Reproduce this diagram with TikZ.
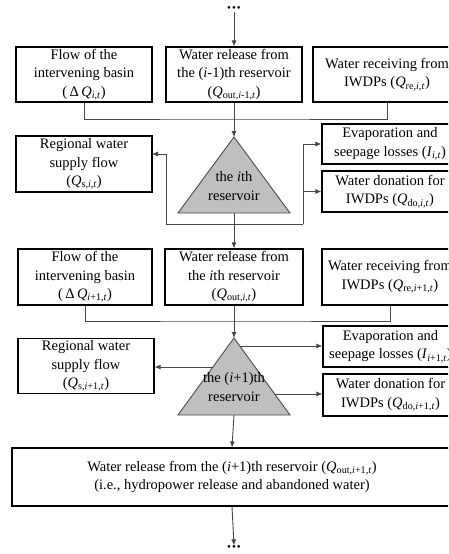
\documentclass[tikz,border=0pt]{standalone}
\usepackage{fontspec}
\setmainfont{Liberation Serif}
\usetikzlibrary{arrows.meta,calc}
\newcommand{\Qv}[1]{\textit{Q}\textsubscript{#1}}
\newcommand{\vi}{\textit{i}}
\newcommand{\vt}{\textit{t}}
\begin{document}
\begin{tikzpicture}[x=1pt,y=-1pt,
  box/.style={draw=black,line width=1.1pt,align=center,inner sep=0pt,font=\fontsize{14.5}{18.5}\selectfont},
  lbl/.style={align=center,inner sep=0pt,font=\fontsize{14.5}{18.5}\selectfont},
  con/.style={draw=black!72,line width=0.9pt},
  arr/.style={con,-{Latex[length=6pt,width=5pt]}},
  tri/.style={draw=black!70,fill=black!25,line width=0.9pt},
  dots/.style={inner sep=0pt,font=\fontsize{11}{11}\selectfont}]
\useasboundingbox (0,0) rectangle (448,554);
\clip (0,0) rectangle (448,554);
\fill[white] (0,0) rectangle (448,554);
% ---------- upper section ----------
\node[dots] (dtop) at (234,9) {•\hspace{1pt}•\hspace{1pt}•};
\node[box,minimum width=136pt,minimum height=55pt] (a1) at (84,74.5) {Flow of the\\intervening basin\\(\,Δ\,\Qv{\vi,\vt})};
\node[box,minimum width=136pt,minimum height=55pt] (a2) at (234,74.5) {Water release from\\the (\vi-1)th reservoir\\(\Qv{out,\vi-1,\vt})};
\node[box,minimum width=148pt,minimum height=55pt] (a3) at (387,74.5) {Water receiving from\\IWDPs (\Qv{re,\vi,\vt})};
\node[box,minimum width=136pt,minimum height=56pt] (s1) at (84,164) {Regional water\\supply flow\\(\Qv{s,\vi,\vt})};
\node[box,minimum width=136pt,minimum height=40pt] (e1) at (390,144) {Evaporation and\\seepage losses (\textit{I}\textsubscript{\vi,\vt})};
\node[box,minimum width=136pt,minimum height=41pt] (d1) at (390,191.5) {Water donation for\\IWDPs (\Qv{do,\vi,\vt})};
\coordinate (t1a) at (234,137);
\coordinate (t1l) at (178,213);
\coordinate (t1r) at (290,213);
\coordinate (t1b) at (234,213);
\path[tri] (t1a) -- (t1l) -- (t1r) -- cycle;
\node[lbl] (t1) at (234,186) {the \vi th\\reservoir};
\coordinate (j1) at (234,119);
\coordinate (j2) at (234,224);
\coordinate (l1) at (166,224);
\coordinate (l1u) at (166,154);
\coordinate (s1in) at (152,154);
\coordinate (r1) at (303,224);
\draw[arr] (dtop) -- (a2.north);
\draw[con] (a1.south) |- (j1) -| (a3.south);
\draw[arr] (a2.south) -- (t1a);
\draw[arr] (j2) -- (l1) -- (l1u) -- (s1in);
\draw[con] (j2) -- (r1);
\draw[arr] (r1) |- (e1.west);
\draw[arr] (r1) |- (d1.west);
% ---------- lower section ----------
\node[box,minimum width=134pt,minimum height=56pt] (b1) at (85,277) {Flow of the\\intervening basin\\(\,Δ\,\Qv{\vi+1,\vt})};
\node[box,minimum width=138pt,minimum height=56pt] (b2) at (234,277) {Water release from\\the \vi th reservoir\\(\Qv{out,\vi,\vt})};
\node[box,minimum width=136pt,minimum height=56pt] (b3) at (390,277) {Water receiving from\\IWDPs (\Qv{re,\vi+1,\vt})};
\node[box,minimum width=136pt,minimum height=55pt] (s2) at (86,366) {Regional water\\supply flow\\(\Qv{s,\vi+1,\vt})};
\node[box,minimum width=135pt,minimum height=41pt] (e2) at (390.5,346.5) {Evaporation and\\seepage losses (\textit{I}\textsubscript{\vi+1,\vt})};
\node[box,minimum width=135pt,minimum height=42pt] (d2) at (390.5,395) {Water donation for\\IWDPs (\Qv{do,\vi+1,\vt})};
\coordinate (t2a) at (234,338);
\coordinate (t2l) at (178,415);
\coordinate (t2r) at (290,415);
\coordinate (t2b) at (234,415);
\path[tri] (t2a) -- (t2l) -- (t2r) -- cycle;
\node[lbl] (t2) at (234,387) {the (\vi+1)th\\reservoir};
\coordinate (k1) at (234,321);
\coordinate (q1) at ($(t2a)!0.377!(t2l)$);
\coordinate (q2) at ($(t2a)!0.104!(t2r)$);
\coordinate (q3) at ($(t2a)!0.727!(t2r)$);
\draw[arr] (t1b) -- (b2.north);
\draw[con] (b1.south) |- (k1) -| (b3.south);
\draw[arr] (b2.south) -- (t2a);
\draw[arr] (q1) -- (s2.east |- q1);
\draw[arr] (q2) -- (e2.west |- q2);
\draw[arr] (q3) -- (d2.west |- q3);
% ---------- bottom ----------
\node[box,minimum width=440pt,minimum height=58pt] (c1) at (232,477) {Water release from the (\vi+1)th reservoir (\Qv{out,\vi+1,\vt})\\(i.e., hydropower release and abandoned water)};
\node[dots] (dbot) at (234,548) {•\hspace{1pt}•\hspace{1pt}•};
\draw[arr] (t2b) -- (c1.north);
\draw[arr] (c1.south) -- (dbot.north);
\end{tikzpicture}
\end{document}
